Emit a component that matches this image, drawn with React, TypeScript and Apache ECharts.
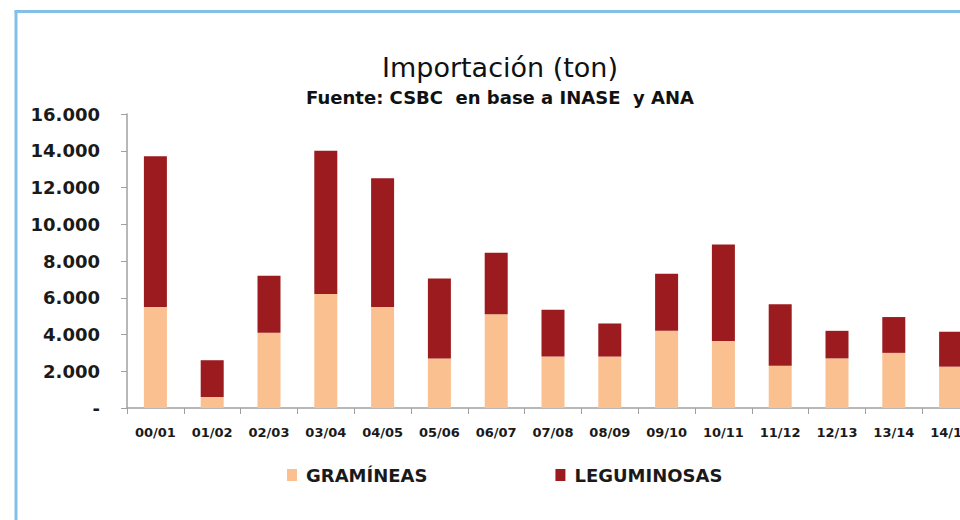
import React, { useEffect, useRef } from "react";
import * as echarts from "echarts";

const categories = [
  "00/01", "01/02", "02/03", "03/04", "04/05", "05/06", "06/07", "07/08",
  "08/09", "09/10", "10/11", "11/12", "12/13", "13/14", "14/15",
];
const gramineas = [5500, 600, 4100, 6200, 5500, 2700, 5100, 2800, 2800, 4200, 3650, 2300, 2700, 3000, 2250];
const leguminosas = [8200, 2000, 3100, 7800, 7000, 4350, 3350, 2550, 1800, 3100, 5250, 3350, 1500, 1950, 1900];
const yTicks = { min: 0, max: 16000, interval: 2000 };

const FONT = "'DejaVu Sans', 'Liberation Sans', sans-serif";

function fmt(v: number): string {
  if (v === 0) return "-";
  const s = String(Math.round(v));
  return s.replace(/\B(?=(\d{3})+(?!\d))/g, ".");
}

export default function App() {
  const ref = useRef<HTMLDivElement>(null);
  useEffect(() => {
    if (!ref.current) return;
    const chart = echarts.init(ref.current, undefined, { renderer: "svg" });
    chart.setOption({
      animation: false,
      backgroundColor: "#ffffff",
      title: [
        {
          text: "Importación (ton)",
          left: 495,
          top: 49,
          textAlign: "center",
          textStyle: { fontFamily: FONT, fontSize: 27, fontWeight: "normal", color: "#111" },
        },
        {
          text: "Fuente: CSBC  en base a INASE  y ANA",
          left: 495,
          top: 83,
          textAlign: "center",
          textStyle: { fontFamily: FONT, fontSize: 18, fontWeight: "bold", color: "#111" },
        },
      ],
      legend: {
        left: 282,
        top: 461,
        itemWidth: 10,
        itemHeight: 12,
        itemGap: 128,
        icon: "rect",
        textStyle: { fontFamily: FONT, fontSize: 18, fontWeight: "bold", color: "#1a1a1a", padding: [0, 0, 0, 4] },
        data: ["GRAMÍNEAS", "LEGUMINOSAS"],
      },
      grid: { left: 127, top: 114, bottom: 112, right: 1, containLabel: false },
      xAxis: {
        type: "category",
        data: categories,
        boundaryGap: true,
        axisLine: { lineStyle: { color: "#a0a0a0", width: 1.5 } },
        axisTick: { show: true, length: 6, alignWithLabel: false, lineStyle: { color: "#a0a0a0" } },
        axisLabel: { interval: 0, margin: 18, fontFamily: FONT, fontSize: 13, fontWeight: "bold", color: "#1a1a1a" },
      },
      yAxis: {
        type: "value",
        min: yTicks.min,
        max: yTicks.max,
        interval: yTicks.interval,
        splitLine: { show: false },
        axisLine: { show: true, lineStyle: { color: "#a0a0a0", width: 1.5 } },
        axisTick: { show: true, length: 6, lineStyle: { color: "#a0a0a0" } },
        axisLabel: {
          margin: 27,
          fontFamily: FONT,
          fontSize: 18,
          fontWeight: "bold",
          color: "#1a1a1a",
          formatter: (v: number) => fmt(v),
        },
      },
      series: [
        {
          name: "GRAMÍNEAS",
          type: "bar",
          stack: "total",
          barWidth: 23,
          data: gramineas,
          itemStyle: { color: "#FAC08F" },
        },
        {
          name: "LEGUMINOSAS",
          type: "bar",
          stack: "total",
          barWidth: 23,
          data: leguminosas,
          itemStyle: { color: "#9B1B1F" },
        },
      ],
      graphic: [
        { type: "line", shape: { x1: 16, y1: 11, x2: 16, y2: 520 }, style: { stroke: "#82C0EA", lineWidth: 3 } },
        { type: "line", shape: { x1: 14.5, y1: 11.5, x2: 980, y2: 11.5 }, style: { stroke: "#82C0EA", lineWidth: 3 } },
      ],
    });
    return () => chart.dispose();
  }, []);
  return (
    <div style={{ position: "fixed", left: 0, top: 0, width: 960, height: 520, overflow: "hidden", background: "#fff" }}>
      <div ref={ref} style={{ width: 980, height: 520 }} />
    </div>
  );
}
